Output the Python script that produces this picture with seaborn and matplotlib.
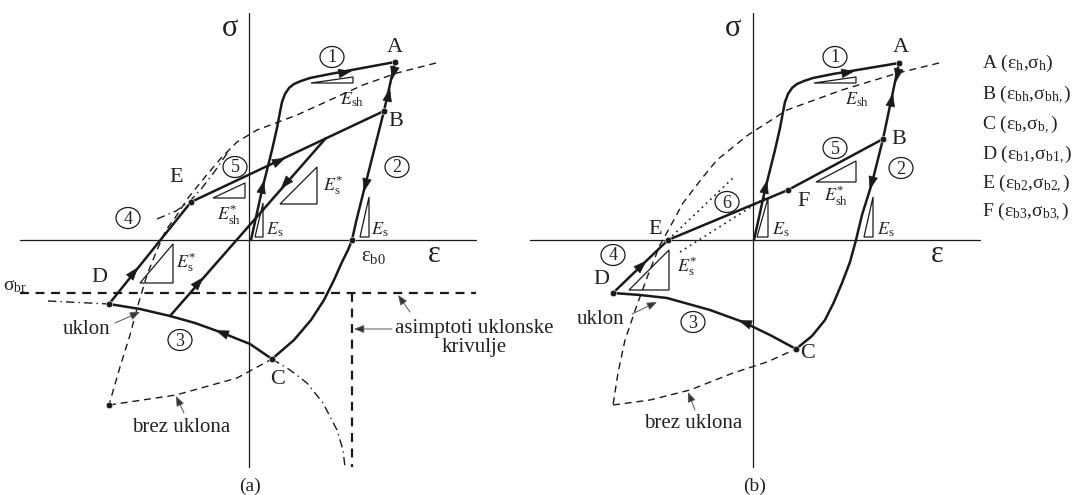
import numpy as np
import matplotlib
matplotlib.use("Agg")
import matplotlib.pyplot as plt
import seaborn as sns
from matplotlib.patches import Polygon, Ellipse

# ---------------- panel (a): curve points, image pixel coords ----------------
a_c1_x = [251, 262, 272, 277, 280, 282, 285, 289, 294, 301, 310, 330, 395]
a_c1_y = [240, 190, 150, 128, 112, 102, 94, 88, 84, 81, 78, 74, 62]
a_c2_x = [395, 384, 364, 356, 352, 348, 342, 334, 324, 311, 294, 272]
a_c2_y = [62, 111, 190, 222, 240, 250, 262, 280, 300, 320, 340, 359]
a_c3_x = [272, 250, 220, 195, 170, 140, 109]
a_c3_y = [359, 344, 332, 323, 316, 309, 304]
a_c4_x, a_c4_y = [109, 191], [304, 202]
a_c5_x, a_c5_y = [191, 384], [202, 111]
a_inner_x, a_inner_y = [170, 326], [316, 138]
a_env_x = [436, 397, 363, 330, 297, 257, 237, 222, 205, 188, 177, 166, 157, 147, 138, 130, 120, 109]
a_env_y = [63, 73, 85, 100, 115, 130, 142, 157, 177, 198, 215, 230, 250, 275, 305, 335, 367, 405]
a_envb_x = [109, 176, 237, 272]
a_envb_y = [405, 395, 378, 359]
a_ukl_left_x, a_ukl_left_y = [48, 109], [301, 304]
a_ukl_low_x = [272, 290, 307, 323, 337, 343, 345]
a_ukl_low_y = [359, 370, 383, 403, 430, 450, 467]
a_ukl_up_x = [157, 176, 190, 202, 215, 228]
a_ukl_up_y = [219, 211, 201, 188, 171, 152]
a_dots_x = [395, 384, 272, 109, 191, 109, 352]
a_dots_y = [62, 111, 359, 304, 202, 405, 240]

# ---------------- panel (b) ----------------
b_c1_x = [754, 765, 775, 780, 783, 785, 788, 792, 797, 804, 813, 833, 899]
b_c1_y = [240, 190, 150, 128, 112, 102, 94, 88, 84, 81, 78, 74, 63]
b_c2_x = [899, 883, 872, 862, 856, 850, 842, 834, 825, 812, 796]
b_c2_y = [63, 139, 183, 215, 240, 262, 283, 302, 320, 336, 349]
b_c3_x = [796, 770, 743, 710, 667, 640, 613]
b_c3_y = [349, 335, 322, 310, 298, 295, 293]
b_c4_x, b_c4_y = [613, 668], [293, 240]
b_c5_x, b_c5_y = [668, 788, 883], [240, 190, 139]
b_env_x = [939, 898, 842, 787, 748, 717, 703, 683, 670, 660, 648, 637, 625, 618, 613]
b_env_y = [63, 73, 90, 110, 135, 160, 177, 203, 227, 245, 275, 305, 340, 373, 405]
b_envb_x = [613, 650, 690, 733, 767, 796]
b_envb_y = [405, 400, 390, 373, 362, 349]
b_dot1_x, b_dot1_y = [668, 733], [240, 178]
b_dot2_x, b_dot2_y = [680, 765], [252, 198]
b_dots_x = [899, 883, 796, 613, 668, 788]
b_dots_y = [63, 139, 349, 293, 240, 190]

legend_lines = [
    r"A ($\varepsilon_h$,$\sigma_h$)",
    r"B ($\varepsilon_{bh}$,$\sigma_{bh,}$)",
    r"C ($\varepsilon_b$,$\sigma_{b,}$)",
    r"D ($\varepsilon_{b1}$,$\sigma_{b1,}$)",
    r"E ($\varepsilon_{b2}$,$\sigma_{b2,}$)",
    r"F ($\varepsilon_{b3}$,$\sigma_{b3,}$)",
]
legend_y = [63, 95, 125, 155, 184, 212]

sns.set_theme(style="white")
plt.rcParams["font.family"] = ["Liberation Serif", "DejaVu Serif"]
plt.rcParams["mathtext.fontset"] = "stix"
plt.rcParams["mathtext.default"] = "regular"

TXT = "#222222"
DASH = (5, 3.5)
DASHDOT = (6, 3, 1, 3)
DOTS = (1, 2.5)

fig = plt.figure(figsize=(10.73, 4.95), dpi=100)
ax = fig.add_axes([0, 0, 1, 1])


def curve(xs, ys, lw=1.8, dashes=None):
    sns.lineplot(x=xs, y=ys, sort=False, estimator=None, color="k",
                 linewidth=lw, ax=ax)
    line = ax.lines[-1]
    line.set_solid_capstyle("round")
    line.set_solid_joinstyle("round")
    if dashes is not None:
        line.set_dashes(dashes)


def head(x, y, dx, dy, size=11):
    n = np.hypot(dx, dy)
    ux, uy = dx / n, dy / n
    ax.annotate("", xy=(x + ux * 5, y + uy * 5), xytext=(x - ux * 5, y - uy * 5),
                arrowprops=dict(arrowstyle="-|>,head_length=0.8,head_width=0.28",
                                fc="k", ec="k", lw=0.5, shrinkA=0, shrinkB=0,
                                mutation_scale=size))


def pointer(tail, tip):
    ax.annotate("", xy=tip, xytext=tail,
                arrowprops=dict(arrowstyle="-|>,head_length=0.5,head_width=0.2",
                                fc="#333", ec="#555", lw=0.7, shrinkA=0, shrinkB=0,
                                mutation_scale=12))


def tri(pts):
    ax.add_patch(Polygon(pts, closed=True, fill=False, ec="k", lw=0.9))


def circled(x, y, s):
    ax.add_patch(Ellipse((x, y), 24, 21, fill=False, ec="k", lw=0.9))
    ax.text(x, y + 1, s, fontsize=13, ha="center", va="center", color=TXT)


def label(x, y, s, size=16):
    ax.text(x, y, s, fontsize=size, ha="center", va="center", color=TXT)


# ---------------- axes of both panels ----------------
for (vx, hx0, hx1) in [(249, 20, 476), (753, 530, 980)]:
    curve([vx, vx], [13, 467], lw=0.9)
    curve([hx0, hx1], [240, 240], lw=0.9)

# ---------------- panel (a) ----------------
curve([20, 476], [293, 293], lw=1.6, dashes=(4, 3))
curve([352, 352], [293, 467], lw=1.6, dashes=(4, 3))
curve(a_env_x, a_env_y, lw=1.0, dashes=DASH)
curve(a_envb_x, a_envb_y, lw=1.0, dashes=DASH)
curve(a_ukl_left_x, a_ukl_left_y, lw=1.0, dashes=DASHDOT)
curve(a_ukl_low_x, a_ukl_low_y, lw=1.0, dashes=DASHDOT)
curve(a_ukl_up_x, a_ukl_up_y, lw=1.0, dashes=DASHDOT)
for xs, ys in [(a_c1_x, a_c1_y), (a_c2_x, a_c2_y), (a_c3_x, a_c3_y),
               (a_c4_x, a_c4_y), (a_c5_x, a_c5_y), (a_inner_x, a_inner_y)]:
    curve(xs, ys)
sns.scatterplot(x=a_dots_x, y=a_dots_y, color="k", s=22, ax=ax, zorder=5)

head(263, 185, 26, -112)
head(347, 72, 65, -12)
head(393, 75, -11, 49)
head(389, 93, 11, -49)
head(365, 187, -29, 115)
head(220, 332, -55, -21)
head(135, 271, 82, -102)
head(281, 160, 193, -91)
head(284, 185, -156, 178)
head(200, 281, 156, -178)

tri([(311, 83), (353, 77), (353, 83)])
tri([(255, 237), (263, 203), (263, 237)])
tri([(360, 237), (369, 197), (369, 237)])
tri([(280, 204), (317, 167), (317, 204)])
tri([(213, 198), (245, 183), (245, 198)])
tri([(140, 283), (173, 244), (173, 283)])

label(352, 100, r"$\mathit{E}_{sh}$", 13)
label(275, 230, r"$\mathit{E}_{s}$", 13)
label(380, 230, r"$\mathit{E}_{s}$", 13)
label(333, 185, r"$\mathit{E}_{s}^{*}$", 13)
label(229, 215, r"$\mathit{E}_{sh}^{*}$", 13)
label(186, 262, r"$\mathit{E}_{s}^{*}$", 13)

circled(332, 57, "1")
circled(397, 167, "2")
circled(180, 340, "3")
circled(128, 218, "4")
circled(235, 167, "5")

label(395, 48, "A")
label(396, 122, "B")
label(278, 380, "C")
label(99, 278, "D")
label(176, 178, "E")
label(230, 28, "σ", 22)
label(434, 254, "ε", 22)
ax.text(3, 286, r"$\sigma_{br}$", fontsize=14, ha="left", va="center", color=TXT)
label(373, 256, r"$\varepsilon_{b0}$", 15)

label(87, 330, "uklon", 15)
pointer((115, 323), (140, 312))
label(181, 427, "brez uklona", 15)
pointer((184, 413), (176, 396))
ax.text(474, 338, "asimptoti uklonske\nkrivulje", fontsize=15, ha="center",
        va="center", color=TXT, linespacing=1.05)
pointer((410, 312), (398, 295))
pointer((392, 329), (354, 329))
label(250, 486, "(a)", 14)

# ---------------- panel (b) ----------------
curve(b_env_x, b_env_y, lw=1.0, dashes=DASH)
curve(b_envb_x, b_envb_y, lw=1.0, dashes=DASH)
curve(b_dot1_x, b_dot1_y, lw=1.2, dashes=DOTS)
curve(b_dot2_x, b_dot2_y, lw=1.2, dashes=DOTS)
for xs, ys in [(b_c1_x, b_c1_y), (b_c2_x, b_c2_y), (b_c3_x, b_c3_y),
               (b_c4_x, b_c4_y), (b_c5_x, b_c5_y)]:
    curve(xs, ys)
sns.scatterplot(x=b_dots_x, y=b_dots_y, color="k", s=22, ax=ax, zorder=5)

head(766, 185, 26, -112)
head(850, 72, 66, -11)
head(897, 77, -16, 76)
head(892, 98, 16, -76)
head(871, 185, -21, 76)
head(743, 322, -33, -12)
head(643, 264, 55, -53)

tri([(814, 83), (856, 77), (856, 83)])
tri([(757, 237), (768, 198), (768, 237)])
tri([(864, 237), (873, 197), (873, 237)])
tri([(816, 182), (856, 161), (856, 182)])
tri([(629, 290), (669, 250), (669, 290)])

label(857, 100, r"$\mathit{E}_{sh}$", 13)
label(836, 196, r"$\mathit{E}_{sh}^{*}$", 13)
label(781, 230, r"$\mathit{E}_{s}$", 13)
label(886, 230, r"$\mathit{E}_{s}$", 13)
label(687, 266, r"$\mathit{E}_{s}^{*}$", 13)

circled(835, 57, "1")
circled(901, 168, "2")
circled(693, 322, "3")
circled(613, 255, "4")
circled(835, 148, "5")
circled(727, 202, "6")

label(901, 48, "A")
label(899, 140, "B")
label(808, 353, "C")
label(601, 280, "D")
label(655, 230, "E")
label(804, 202, "F")
label(733, 28, "σ", 22)
label(937, 254, "ε", 22)

label(601, 319, "uklon", 15)
pointer((632, 314), (657, 302))
label(693, 423, "brez uklona", 15)
pointer((695, 410), (688, 392))
label(755, 486, "(b)", 14)

for s, y in zip(legend_lines, legend_y):
    ax.text(982, y, s, fontsize=14, ha="left", va="center", color=TXT)

ax.set_xlim(0, 1073)
ax.set_ylim(495, 0)
ax.axis("off")
fig.savefig("out.png", dpi=100, facecolor="white")
